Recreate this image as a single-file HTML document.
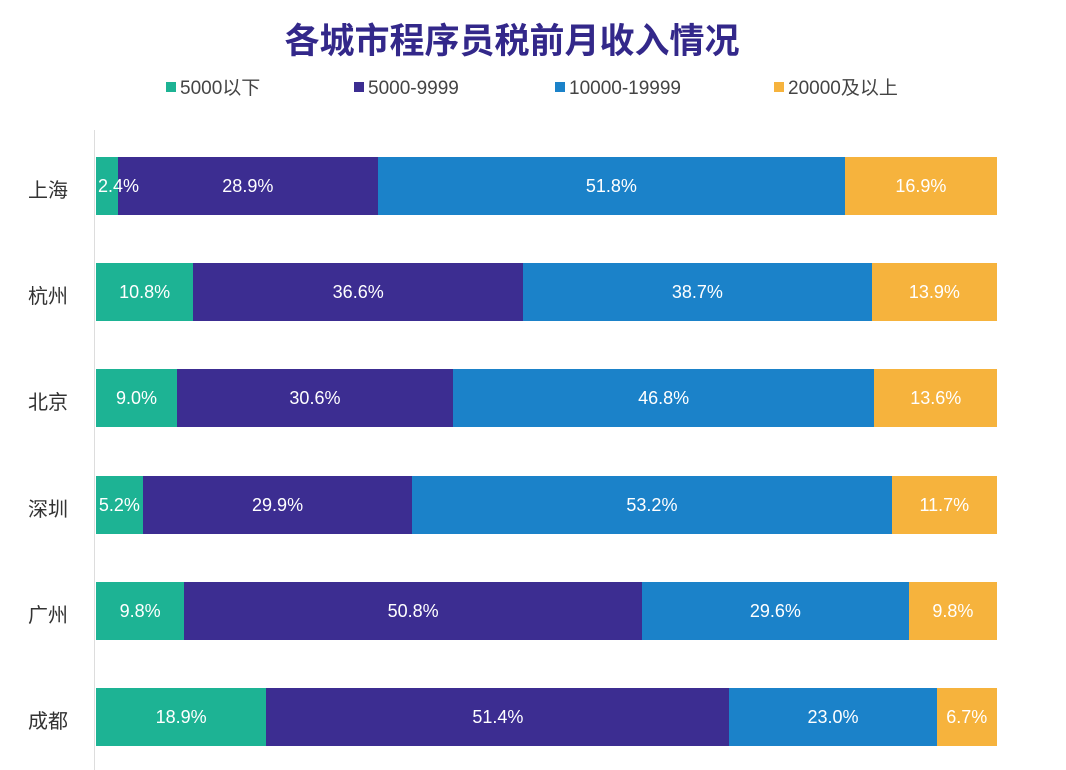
<!DOCTYPE html>
<html><head><meta charset="utf-8"><style>
body{margin:0;width:1066px;height:770px;background:#fff;position:relative;overflow:hidden;font-family:"Liberation Sans","Noto Sans CJK SC",sans-serif}
.title{position:absolute;left:0;width:1024px;top:17px;text-align:center;font-size:35px;font-weight:bold;color:#33288a;letter-spacing:0px;line-height:50px}
.lg{position:absolute;top:76px;height:26px;line-height:26px;font-size:19px;color:#444}
.lg i{display:inline-block;width:10px;height:10px;margin-right:4px;vertical-align:middle;position:relative;top:-2px}
.axis{position:absolute;left:94px;top:130px;width:1px;height:640px;background:#ddd}
.city{position:absolute;left:28px;font-size:20px;color:#333}
.bar{position:absolute;left:96px;width:901px;height:58px;display:flex}
.bar div{height:100%;width:0;min-width:0;flex-shrink:1;color:#fff;font-size:18px;line-height:58px;text-align:center;white-space:nowrap;overflow:visible}
.a{background:#1db394;position:relative;z-index:1}.b{background:#3c2d91}.c{background:#1b82c9}.d{background:#f6b33d}
</style></head><body>
<div class="title">各城市程序员税前月收入情况</div>
<div class="lg" style="left:166px"><i class="a"></i>5000以下</div>
<div class="lg" style="left:354px"><i class="b"></i>5000-9999</div>
<div class="lg" style="left:555px"><i class="c"></i>10000-19999</div>
<div class="lg" style="left:774px"><i class="d"></i>20000及以上</div>
<div class="axis"></div>

<div class="city" style="top:174px">上海</div>
<div class="bar" style="top:157px"><div class="a" style="flex:2.4 1 0;text-align:left;text-indent:2px">2.4%</div><div class="b" style="flex:28.9 1 0">28.9%</div><div class="c" style="flex:51.8 1 0">51.8%</div><div class="d" style="flex:16.9 1 0">16.9%</div></div>
<div class="city" style="top:280px">杭州</div>
<div class="bar" style="top:263px"><div class="a" style="flex:10.8 1 0">10.8%</div><div class="b" style="flex:36.6 1 0">36.6%</div><div class="c" style="flex:38.7 1 0">38.7%</div><div class="d" style="flex:13.9 1 0">13.9%</div></div>
<div class="city" style="top:386px">北京</div>
<div class="bar" style="top:369px"><div class="a" style="flex:9.0 1 0">9.0%</div><div class="b" style="flex:30.6 1 0">30.6%</div><div class="c" style="flex:46.8 1 0">46.8%</div><div class="d" style="flex:13.6 1 0">13.6%</div></div>
<div class="city" style="top:493px">深圳</div>
<div class="bar" style="top:476px"><div class="a" style="flex:5.2 1 0">5.2%</div><div class="b" style="flex:29.9 1 0">29.9%</div><div class="c" style="flex:53.2 1 0">53.2%</div><div class="d" style="flex:11.7 1 0">11.7%</div></div>
<div class="city" style="top:599px">广州</div>
<div class="bar" style="top:582px"><div class="a" style="flex:9.8 1 0">9.8%</div><div class="b" style="flex:50.8 1 0">50.8%</div><div class="c" style="flex:29.6 1 0">29.6%</div><div class="d" style="flex:9.8 1 0">9.8%</div></div>
<div class="city" style="top:705px">成都</div>
<div class="bar" style="top:688px"><div class="a" style="flex:18.9 1 0">18.9%</div><div class="b" style="flex:51.4 1 0">51.4%</div><div class="c" style="flex:23.0 1 0">23.0%</div><div class="d" style="flex:6.7 1 0">6.7%</div></div>
</body></html>
